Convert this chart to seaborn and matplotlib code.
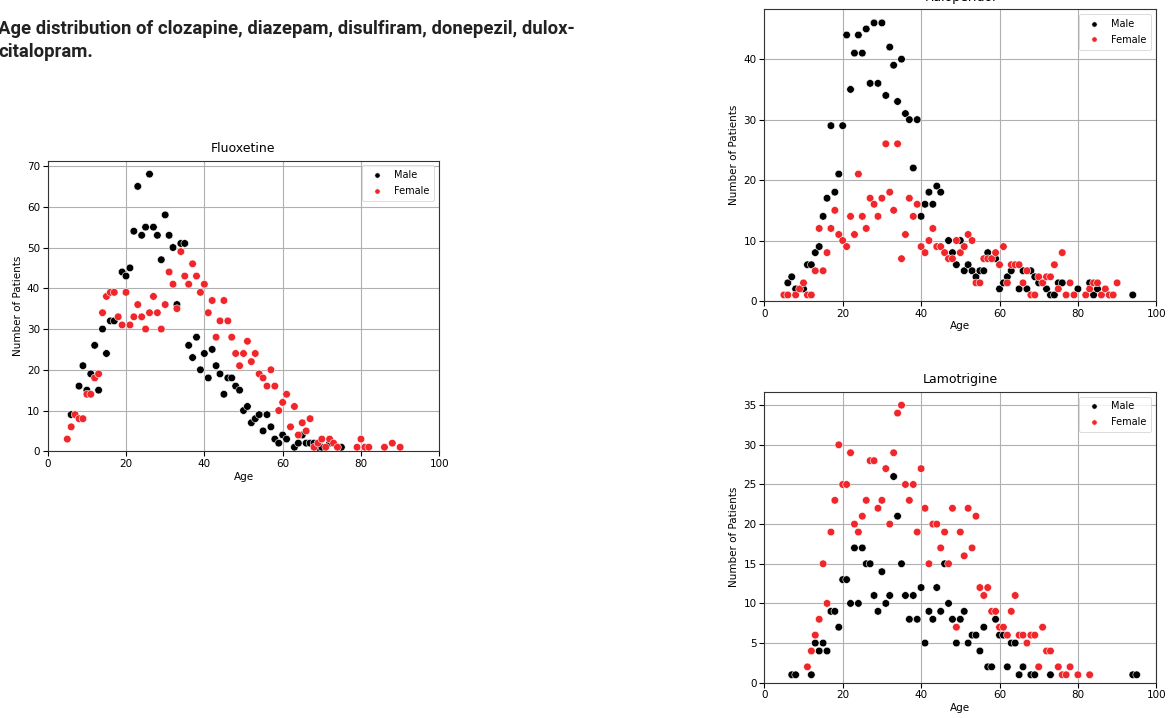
import numpy as np
import pandas as pd
import matplotlib
matplotlib.use("Agg")
import matplotlib.pyplot as plt
import seaborn as sns

# ---------------- data ----------------
fluox_male_age = [6, 8, 9, 10, 11, 12, 13, 14, 15, 16, 17, 19, 20, 21, 22, 23, 24, 25, 26, 27, 28, 29, 30,
                  31, 32, 33, 34, 35, 36, 37, 38, 39, 40, 41, 42, 43, 44, 45, 46, 47, 48, 49, 50, 51, 52,
                  53, 54, 55, 56, 57, 58, 59, 60, 61, 63, 64, 65, 66, 67, 68, 69, 70, 72, 75]
fluox_male_cnt = [9, 16, 21, 15, 19, 26, 15, 30, 24, 32, 32, 44, 43, 45, 54, 65, 53, 55, 68, 55, 53, 47, 58,
                  53, 50, 36, 51, 51, 26, 23, 28, 20, 24, 18, 25, 21, 19, 14, 18, 18, 16, 15, 10, 11, 7,
                  8, 9, 5, 9, 6, 3, 2, 4, 3, 1, 2, 4, 2, 2, 2, 1, 1, 2, 1]
fluox_female_age = [5, 6, 7, 8, 9, 10, 11, 12, 13, 14, 15, 16, 17, 18, 19, 20, 21, 22, 23, 24, 25, 26, 27,
                    28, 29, 30, 31, 32, 33, 34, 35, 36, 37, 38, 39, 40, 41, 42, 43, 44, 45, 46, 47, 48, 49,
                    50, 51, 52, 53, 54, 55, 56, 57, 58, 59, 60, 61, 62, 63, 64, 65, 66, 67, 68, 69, 70, 71,
                    72, 73, 74, 79, 80, 81, 82, 86, 88, 90]
fluox_female_cnt = [3, 6, 9, 8, 8, 14, 14, 18, 19, 34, 38, 39, 39, 33, 31, 39, 31, 33, 36, 33, 30, 34, 38,
                    34, 30, 36, 44, 41, 35, 49, 43, 41, 46, 43, 39, 41, 34, 37, 28, 32, 37, 32, 28, 24, 21,
                    24, 27, 22, 24, 19, 18, 16, 20, 16, 10, 12, 14, 6, 11, 4, 7, 5, 8, 1, 2, 3, 1,
                    3, 2, 1, 1, 3, 1, 1, 1, 2, 1]

halo_male_age = [6, 7, 8, 10, 11, 12, 13, 14, 15, 16, 17, 18, 19, 20, 21, 22, 23, 24, 25, 26, 27, 28, 29,
                 30, 31, 32, 33, 34, 35, 36, 37, 38, 39, 40, 41, 42, 43, 44, 45, 47, 48, 49, 50, 51, 52,
                 53, 54, 55, 56, 57, 59, 60, 61, 62, 63, 65, 66, 67, 68, 69, 70, 72, 73, 74, 75, 76, 80,
                 83, 84, 85, 88, 94]
halo_male_cnt = [3, 4, 2, 2, 6, 6, 8, 9, 14, 17, 29, 18, 21, 29, 44, 35, 41, 44, 41, 45, 36, 46, 36,
                 46, 34, 42, 39, 33, 40, 31, 30, 22, 30, 14, 16, 18, 16, 19, 18, 10, 8, 6, 10, 5, 6,
                 5, 4, 5, 5, 8, 7, 2, 3, 4, 5, 2, 5, 2, 5, 4, 3, 2, 1, 1, 3, 3, 2,
                 3, 1, 2, 1, 1]
halo_female_age = [5, 6, 8, 9, 10, 11, 12, 13, 14, 15, 16, 17, 18, 19, 20, 21, 22, 23, 24, 25, 26, 27, 28,
                   29, 30, 31, 32, 33, 34, 35, 36, 37, 38, 39, 40, 41, 42, 43, 44, 45, 46, 47, 48, 49, 50,
                   51, 52, 53, 54, 55, 56, 57, 58, 59, 60, 61, 62, 63, 64, 65, 66, 67, 68, 69, 70, 71, 72,
                   73, 74, 75, 76, 77, 78, 79, 82, 83, 84, 85, 86, 87, 88, 89, 90]
halo_female_cnt = [1, 1, 1, 2, 3, 1, 1, 5, 12, 5, 8, 12, 15, 11, 10, 9, 14, 11, 21, 14, 12, 17, 16,
                   14, 17, 26, 18, 15, 26, 7, 11, 17, 14, 16, 9, 8, 10, 12, 9, 9, 8, 7, 7, 10, 8,
                   9, 11, 10, 3, 3, 7, 7, 7, 8, 6, 9, 3, 6, 6, 6, 3, 5, 1, 1, 4, 3, 4,
                   4, 6, 2, 8, 1, 3, 1, 1, 2, 3, 3, 1, 2, 1, 1, 3]

lamo_male_age = [7, 8, 12, 13, 14, 15, 16, 17, 18, 19, 20, 21, 22, 23, 24, 25, 26, 27, 28, 29, 30, 31, 32,
                 33, 34, 35, 36, 37, 38, 39, 40, 41, 42, 43, 44, 45, 46, 47, 48, 49, 50, 51, 52, 53, 54,
                 55, 56, 57, 58, 59, 60, 61, 62, 63, 64, 65, 66, 68, 69, 73, 94, 95]
lamo_male_cnt = [1, 1, 1, 5, 4, 5, 4, 9, 9, 7, 13, 13, 10, 17, 10, 17, 15, 15, 11, 9, 14, 10, 11,
                 26, 21, 15, 11, 8, 11, 8, 12, 5, 9, 8, 12, 9, 15, 10, 8, 5, 8, 9, 5, 6, 6,
                 4, 7, 2, 2, 8, 6, 6, 2, 5, 5, 1, 2, 1, 1, 1, 1, 1]
lamo_female_age = [11, 12, 13, 14, 15, 16, 17, 18, 19, 20, 21, 22, 23, 24, 25, 26, 27, 28, 29, 30, 31, 32,
                   33, 34, 35, 36, 37, 38, 39, 40, 41, 42, 43, 44, 45, 46, 47, 48, 49, 50, 51, 52, 53,
                   54, 55, 56, 57, 58, 59, 60, 61, 62, 63, 64, 65, 66, 67, 68, 69, 70, 71, 72, 73, 75,
                   76, 77, 78, 80, 83]
lamo_female_cnt = [2, 4, 6, 8, 15, 10, 19, 23, 30, 25, 25, 29, 20, 19, 21, 23, 28, 28, 22, 23, 27, 20,
                   29, 34, 35, 25, 23, 25, 19, 27, 22, 15, 20, 20, 17, 19, 15, 22, 7, 19, 16, 22, 17,
                   21, 12, 11, 12, 9, 9, 7, 7, 6, 9, 11, 6, 6, 5, 6, 6, 2, 7, 4, 4, 2,
                   1, 1, 2, 1, 1]

caption_lines = ["Age distribution of clozapine, diazepam, disulfiram, donepezil, dulox-",
                 "citalopram."]

# ---------------- figure ----------------
W, H = 1172, 718
fig = plt.figure(figsize=(W / 100, H / 100), dpi=100)

def px_axes(left, top, right, bottom):
    return fig.add_axes([left / W, 1 - bottom / H, (right - left) / W, (bottom - top) / H])

ax_f = px_axes(47.7, 160.5, 439.3, 451.3)
ax_h = px_axes(764.3, 9.3, 1156.3, 301.0)
ax_l = px_axes(764.3, 391.7, 1156.3, 682.7)

male_c = "black"
female_c = "#f0262a"

def draw(ax, title, m_age, m_cnt, f_age, f_cnt):
    df = pd.concat([
        pd.DataFrame({"Age": m_age, "Count": m_cnt, "Sex": "Male"}),
        pd.DataFrame({"Age": f_age, "Count": f_cnt, "Sex": "Female"}),
    ], ignore_index=True)
    sns.scatterplot(data=df, x="Age", y="Count", hue="Sex",
                    palette={"Male": male_c, "Female": female_c},
                    s=30, edgecolor="white", linewidth=0.4, ax=ax, zorder=3)
    ax.set_xlim(0, 100)
    ax.set_ylim(bottom=0)
    ax.set_xticks([0, 20, 40, 60, 80, 100])
    ax.grid(True, color="#b0b0b0", linewidth=0.8, zorder=0)
    ax.set_axisbelow(True)
    ax.set_title(title, fontsize=9, pad=6)
    ax.set_xlabel("Age", fontsize=7.5, labelpad=2)
    ax.set_ylabel("Number of Patients", fontsize=7.5, labelpad=3)
    ax.tick_params(labelsize=7.5, length=3.5, width=0.8, pad=2)
    for sp in ax.spines.values():
        sp.set_color("#333333")
        sp.set_linewidth(0.8)
    leg = ax.legend(loc="upper right", fontsize=7, markerscale=0.7,
                    handletextpad=0.8, borderpad=0.5, labelspacing=0.6, framealpha=0.8)
    leg.get_frame().set_linewidth(0.6)

draw(ax_f, "Fluoxetine", fluox_male_age, fluox_male_cnt, fluox_female_age, fluox_female_cnt)
draw(ax_h, "Haloperidol", halo_male_age, halo_male_cnt, halo_female_age, halo_female_cnt)
draw(ax_l, "Lamotrigine", lamo_male_age, lamo_male_cnt, lamo_female_age, lamo_female_cnt)

fig.text(-2 / W, 1 - 34 / H, caption_lines[0], fontsize=13.3, fontweight="bold",
         family=["Roboto", "DejaVu Sans"], color="#222222", ha="left", va="baseline")
fig.text(-2 / W, 1 - 57 / H, caption_lines[1], fontsize=13.3, fontweight="bold",
         family=["Roboto", "DejaVu Sans"], color="#222222", ha="left", va="baseline")

fig.savefig("out.png", dpi=100)
